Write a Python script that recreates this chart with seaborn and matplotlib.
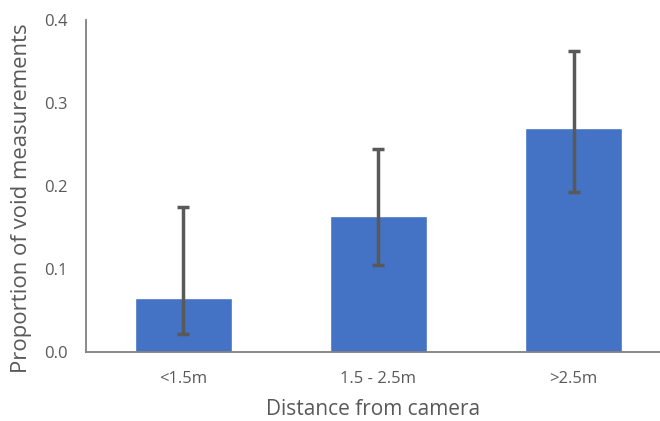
import numpy as np
import pandas as pd
import matplotlib
matplotlib.use("Agg")
import matplotlib.pyplot as plt
import seaborn as sns

# data
categories = ["<1.5m", "1.5 - 2.5m", ">2.5m"]
proportions = [0.065, 0.164, 0.270]
err_upper = [0.175, 0.245, 0.363]
err_lower = [0.022, 0.105, 0.193]

sns.set_style("white")
plt.rcParams['font.family'] = ['Open Sans', 'DejaVu Sans']

df = pd.DataFrame({"dist": categories, "prop": proportions})

fig = plt.figure(figsize=(6.6, 4.21), dpi=100)
ax = fig.add_axes([0.130, 0.164, 0.870, 0.7885])

sns.barplot(data=df, x="dist", y="prop", color="#4472C4", width=0.5,
            saturation=1, ax=ax)

yerr = np.array([np.array(proportions) - np.array(err_lower),
                 np.array(err_upper) - np.array(proportions)])
ax.errorbar(x=np.arange(len(categories)), y=proportions, yerr=yerr,
            fmt="none", ecolor="#595959", elinewidth=2.5, capsize=4, capthick=2.5)

ax.set_ylim(0, 0.4)
ax.set_xlim(-0.5, 2.443)
ax.set_yticks([0.0, 0.1, 0.2, 0.3, 0.4])
ax.set_yticklabels(["0.0", "0.1", "0.2", "0.3", "0.4"])
ax.tick_params(axis="both", length=0, colors="#595959", labelsize=12)
ax.tick_params(axis="x", pad=14)
ax.tick_params(axis="y", pad=13)

for s in ["top", "right"]:
    ax.spines[s].set_visible(False)
for s in ["left", "bottom"]:
    ax.spines[s].set_color("#808080")
    ax.spines[s].set_linewidth(1.3)

ax.set_xlabel("Distance from camera", fontsize=15, color="#595959", labelpad=8)
ax.set_ylabel("Proportion of void measurements", fontsize=15.9, color="#595959")
ax.yaxis.set_label_coords(-0.093, 0.464)

fig.savefig("out.png", dpi=100)
